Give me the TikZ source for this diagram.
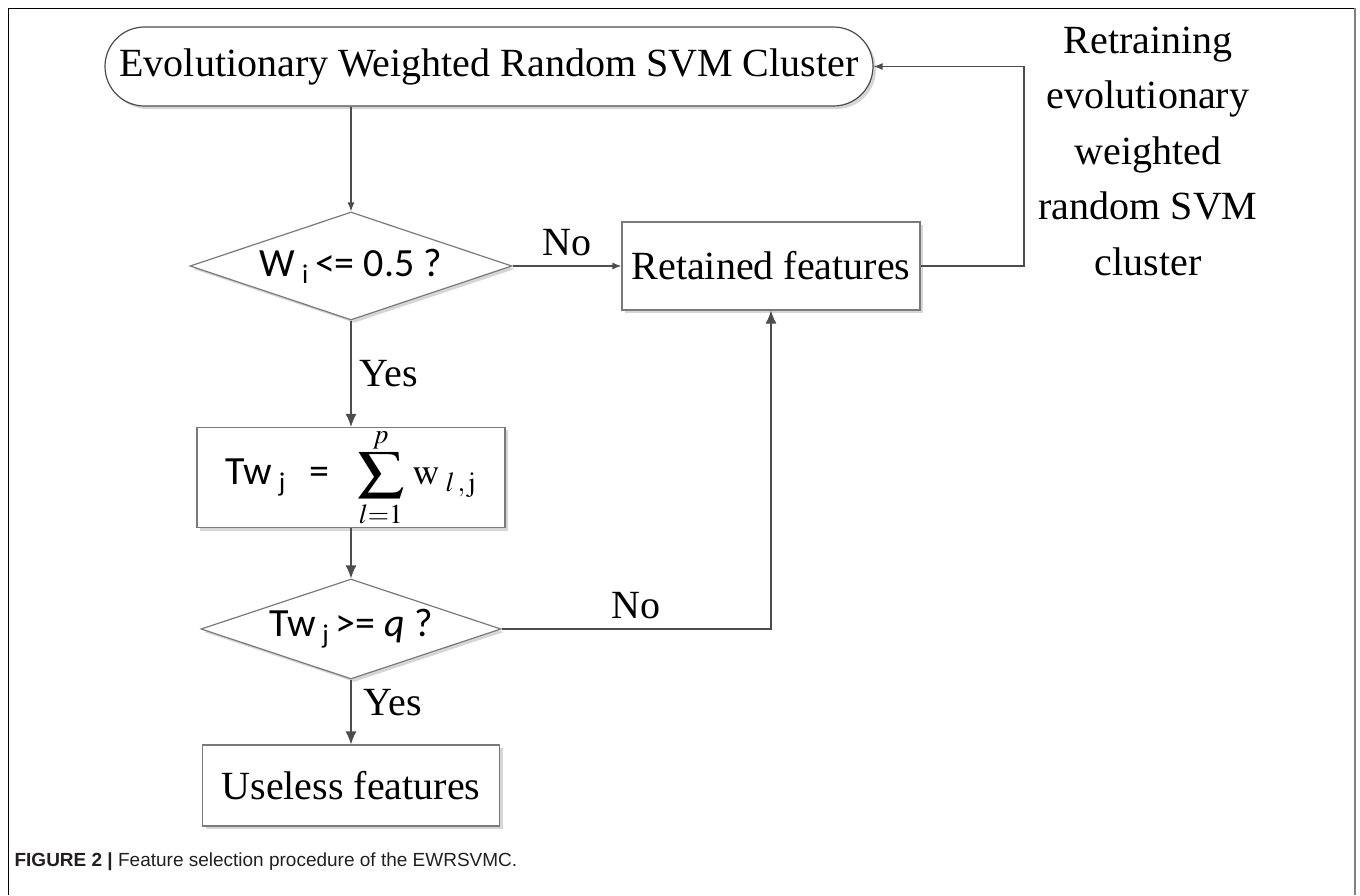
\documentclass[tikz,border=0pt]{standalone}
\usepackage{mathptmx}
\usepackage{graphicx}
\usepackage{fontspec}
\setmainfont{Liberation Serif}
\newfontfamily\calibri{Carlito}
\newfontfamily\arial{Liberation Sans}
\usetikzlibrary{arrows.meta, shapes.geometric, shadows}
\definecolor{cline}{HTML}{4D4D4D}
\definecolor{cedge}{HTML}{7A7A7A}
\definecolor{cshadow}{HTML}{D6D6D6}
\definecolor{ccap}{HTML}{231F20}
\tikzset{
  every picture/.style={line width=1.2pt},
  bigtext/.style={font=\fontsize{40}{55.5}\selectfont},
  boxshadow/.style={drop shadow={shadow xshift=3pt, shadow yshift=-3pt, fill=cshadow, opacity=1}},
  box/.style={draw=cedge, fill=white, boxshadow, inner sep=0pt, align=center, bigtext},
  decision/.style={diamond, aspect=3, draw=cedge, fill=white, boxshadow, inner sep=0pt, font=\calibri\fontsize{40}{48}\selectfont},
  label/.style={bigtext, inner sep=0pt},
  arrowsmall/.style={-{Latex[length=9pt, width=7pt]}, draw=cline},
  arrowbig/.style={-{Latex[length=13pt, width=11pt]}, draw=cline},
}
\newcommand{\lowsub}[1]{\,\raisebox{-7pt}{\fontsize{27}{27}\selectfont #1}\,}
\newcommand{\bigsum}{\mathop{\scalebox{1.25}[1.0]{$\displaystyle\sum$}}\limits}

\begin{document}
\begin{tikzpicture}[x=1pt, y=-1pt]
  \useasboundingbox (0,0) rectangle (1360,895);
  % frame
  \draw[black, line width=1pt] (8,895) -- (8,8) -- (1355,8);
  \draw[gray, line width=2pt] (1355,8) -- (1355,895);

  \node[box, draw=cline, rounded corners=39.5pt, minimum width=768pt, minimum height=79pt] (term) at (489,66.5) {Evolutionary Weighted Random SVM Cluster};
  \node[decision, minimum width=322pt, minimum height=108pt] (d1) at (351,266) {W\lowsub{i}<= 0.5 ?};
  \node[box, minimum width=298pt, minimum height=88pt] (ret) at (771,266) {Retained features};
  \node[box, minimum width=308pt, minimum height=99pt] (sum) at (351,477.5)
    {{\calibri Tw\lowsub{j}\ \ =\ \ \ }\fontsize{37}{37}\selectfont$\displaystyle\bigsum_{l=1}^{p}\,\mathrm{w}_{\;l\,,\,\mathrm{j}}$};
  \node[decision, minimum width=300pt, minimum height=100pt] (d2) at (351,629) {Tw\lowsub{j}>= \textit{q} ?};
  \node[box, minimum width=297pt, minimum height=81pt] (use) at (351,785.5) {Useless features};
  \node[label, align=center] (retrain) at (1148,151) {Retraining\\evolutionary\\weighted\\random SVM\\cluster};
  \coordinate (loop) at (1024,66.5);

  % connectors
  \draw[arrowsmall] (term.south -| d1.north) -- (d1.north);
  \draw[arrowsmall] (d1.east) -- (ret.west) node[label, midway, above=10pt] (no1) {No};
  \draw[arrowsmall] (ret.east) -| (loop) -- (term.east);
  \draw[arrowbig] (d1.south) -- (sum.north) node[label, midway, right=8pt] (yes1) {Yes};
  \draw[arrowbig] (sum.south) -- (d2.north);
  \draw[arrowbig] (d2.east) -| (ret.south) node[label, pos=0.25, above=10pt] (no2) {No};
  \draw[arrowbig] (d2.south) -- (use.north) node[label, pos=0.35, right=12pt] (yes2) {Yes};

  \node[anchor=west, text=ccap, font=\arial\fontsize{19}{19}\selectfont, inner sep=0pt] (cap) at (14,862) {\textbf{FIGURE 2 |} Feature selection procedure of the EWRSVMC.};
\end{tikzpicture}
\end{document}
